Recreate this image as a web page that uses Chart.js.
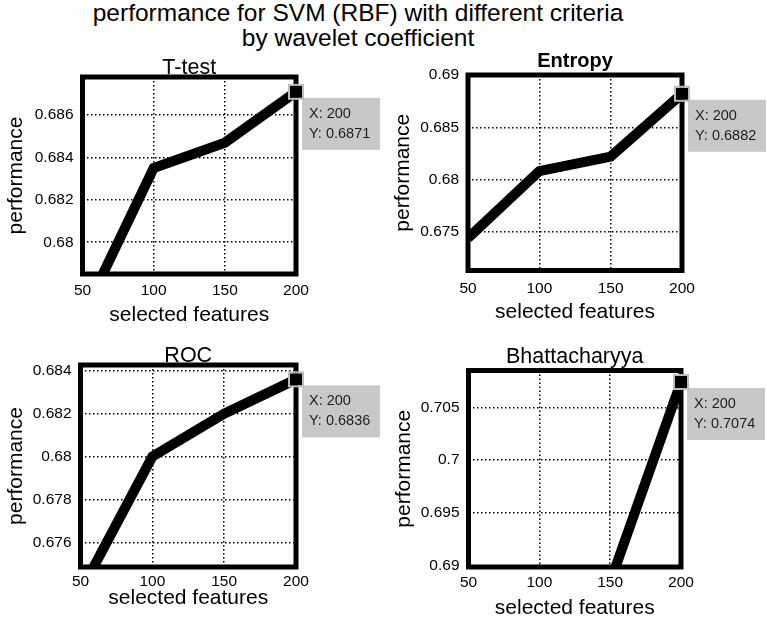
<!DOCTYPE html>
<html lang="en">
<head>
    <meta charset="UTF-8">
    <title>performance for SVM (RBF)</title>
    <script src="https://cdn.jsdelivr.net/npm/chart.js"></script>
    <style>
        body {
            margin: 0;
            background: #fff;
            font-family: 'Liberation Sans', Arial, sans-serif;
        }
        #main-title {
            position: absolute;
            left: 0;
            top: 0;
            width: 716px;
            text-align: center;
            font-size: 24.5px;
            line-height: 25px;
            color: #000;
        }
        .panel {
            position: absolute;
        }
    </style>
</head>
<body>
    <div id="main-title">performance for SVM (RBF) with different criteria<br>by wavelet coefficient</div>
    <div class="panel" id="p0"><canvas id="c0"></canvas></div>
    <div class="panel" id="p1"><canvas id="c1"></canvas></div>
    <div class="panel" id="p2"><canvas id="c2"></canvas></div>
    <div class="panel" id="p3"><canvas id="c3"></canvas></div>

    <script>
        // data
        const selectedFeatures = [50, 100, 150, 200];
        const tTest   = [0.6765, 0.6835, 0.6847, 0.6871];
        const entropy = [0.6744, 0.6808, 0.6822, 0.6882];
        const roc     = [0.6737, 0.6800, 0.6820, 0.6836];
        const bhatta  = [0.6845, 0.6866, 0.6884, 0.7074];

        const xTicks = [50, 100, 150, 200];
        const tTestTicks   = [0.68, 0.682, 0.684, 0.686];
        const entropyTicks = [0.675, 0.68, 0.685, 0.69];
        const rocTicks     = [0.676, 0.678, 0.68, 0.682, 0.684];
        const bhattaTicks  = [0.69, 0.695, 0.7, 0.705];

        const tTestRange   = [0.6785, 0.6878];
        const entropyRange = [0.6713, 0.69];
        const rocRange     = [0.67485, 0.68427];
        const bhattaRange  = [0.68985, 0.70849];

        const subplotTitles = ['T-test', 'Entropy', 'ROC', 'Bhattacharyya'];

        const FONT = "'Liberation Sans', Arial, sans-serif";

        // page layout of each subplot: canvas box, axes box, label spots
        const panels = [
            {box: [0, 45, 383, 285],   area: [82.5, 77, 296, 274],    xLab: 315,   yLab: 16.5,  tickPad: 7,   titleBase: 74,    titleFont: '21.5px ' + FONT},
            {box: [383, 45, 384, 285], area: [468, 75, 682, 270.5],   xLab: 312,   yLab: 403.5, tickPad: 9,   titleBase: 66.7,  titleFont: 'bold 20px ' + FONT},
            {box: [0, 330, 383, 295],  area: [80.5, 365, 296, 567],   xLab: 598.7, yLab: 16,    tickPad: 5.5, titleBase: 361.7, titleFont: '21.5px ' + FONT},
            {box: [383, 330, 384, 295],area: [468.5, 370.5, 681, 567],xLab: 608.7, yLab: 404,   tickPad: 6,   titleBase: 363.3, titleFont: '21.5px ' + FONT}
        ];

        const series = [tTest, entropy, roc, bhatta];
        const yTicksList = [tTestTicks, entropyTicks, rocTicks, bhattaTicks];
        const yRanges = [tTestRange, entropyRange, rocRange, bhattaRange];

        // axes box, subplot title and the datatip on the last point
        const subplotDecor = {
            id: 'subplotDecor',
            afterDraw(chart, args, opts) {
                const ctx = chart.ctx;
                const a = chart.chartArea;
                ctx.save();
                ctx.lineWidth = 5;
                ctx.strokeStyle = '#000';
                ctx.lineJoin = 'miter';
                ctx.strokeRect(a.left, a.top, a.right - a.left, a.bottom - a.top);

                ctx.font = opts.titleFont;
                ctx.fillStyle = '#000';
                ctx.textAlign = 'center';
                ctx.textBaseline = 'alphabetic';
                ctx.fillText(opts.title, (a.left + a.right) / 2, a.top + opts.titleOffset);

                const meta = chart.getDatasetMeta(0);
                const i = meta.data.length - 1;
                const pt = meta.data[i];
                const raw = chart.data.datasets[0].data[i];
                const mx = pt.x, my = pt.y;

                // tip box
                ctx.fillStyle = '#c8c8c8';
                ctx.fillRect(mx + 6, my + 6, 78, 52);
                ctx.fillStyle = '#1e1e1e';
                ctx.font = '14.5px ' + FONT;
                ctx.textAlign = 'left';
                ctx.textBaseline = 'middle';
                ctx.fillText('X: ' + raw.x, mx + 13, my + 22);
                ctx.fillText('Y: ' + raw.y.toFixed(4), mx + 13, my + 42);

                // marker
                ctx.fillStyle = '#000';
                ctx.fillRect(mx - 6, my - 6, 12, 12);
                ctx.lineWidth = 2;
                ctx.strokeStyle = '#bdbdbd';
                ctx.strokeRect(mx - 7, my - 7, 14, 14);
                ctx.restore();
            }
        };

        const tickLabel = v => String(+Number(v).toFixed(4));

        panels.forEach((p, k) => {
            const [cx, cy, cw, ch] = p.box;
            const [L, T, R, B] = p.area;
            const wrap = document.getElementById('p' + k);
            wrap.style.left = cx + 'px';
            wrap.style.top = cy + 'px';
            const canvas = document.getElementById('c' + k);
            canvas.width = cw;
            canvas.height = ch;

            const yW = L - cx;
            const xH = cy + ch - B;
            const titleLine = 21 * 1.2;

            new Chart(canvas, {
                type: 'line',
                data: {
                    datasets: [{
                        data: selectedFeatures.map((x, i) => ({x: x, y: series[k][i]})),
                        borderColor: '#000',
                        borderWidth: 10,
                        pointRadius: 0,
                        fill: false,
                        tension: 0,
                        clip: 0
                    }]
                },
                options: {
                    responsive: false,
                    animation: false,
                    events: [],
                    layout: {
                        padding: {left: 0, top: T - cy, right: cx + cw - R, bottom: 0}
                    },
                    plugins: {
                        legend: {display: false},
                        tooltip: {enabled: false},
                        subplotDecor: {
                            title: subplotTitles[k],
                            titleFont: p.titleFont,
                            titleOffset: p.titleBase - T
                        }
                    },
                    scales: {
                        x: {
                            type: 'linear',
                            min: xTicks[0],
                            max: xTicks[xTicks.length - 1],
                            afterBuildTicks: s => { s.ticks = xTicks.map(v => ({value: v})); },
                            afterFit: s => { s.height = xH; },
                            grid: {color: '#000', lineWidth: 1.5, drawTicks: false},
                            border: {display: false, dash: [1.5, 2.5]},
                            ticks: {
                                color: '#000',
                                padding: p.tickPad,
                                maxRotation: 0,
                                font: {family: FONT, size: 15.5},
                                callback: tickLabel
                            },
                            title: {
                                display: true,
                                text: 'selected features',
                                color: '#000',
                                font: {family: FONT, size: 21},
                                padding: {top: 0, bottom: Math.max(0, cy + ch - p.xLab - titleLine / 2)}
                            }
                        },
                        y: {
                            type: 'linear',
                            min: yRanges[k][0],
                            max: yRanges[k][1],
                            afterBuildTicks: s => { s.ticks = yTicksList[k].map(v => ({value: v})); },
                            afterFit: s => { s.width = yW; },
                            grid: {color: '#000', lineWidth: 1.5, drawTicks: false},
                            border: {display: false, dash: [1.5, 2.5]},
                            ticks: {
                                color: '#000',
                                padding: 9,
                                font: {family: FONT, size: 15.5},
                                callback: tickLabel
                            },
                            title: {
                                display: true,
                                text: 'performance',
                                color: '#000',
                                font: {family: FONT, size: 21},
                                padding: {top: Math.max(0, p.yLab - cx - titleLine / 2), bottom: 0}
                            }
                        }
                    }
                },
                plugins: [subplotDecor]
            });
        });
    </script>
</body>
</html>
